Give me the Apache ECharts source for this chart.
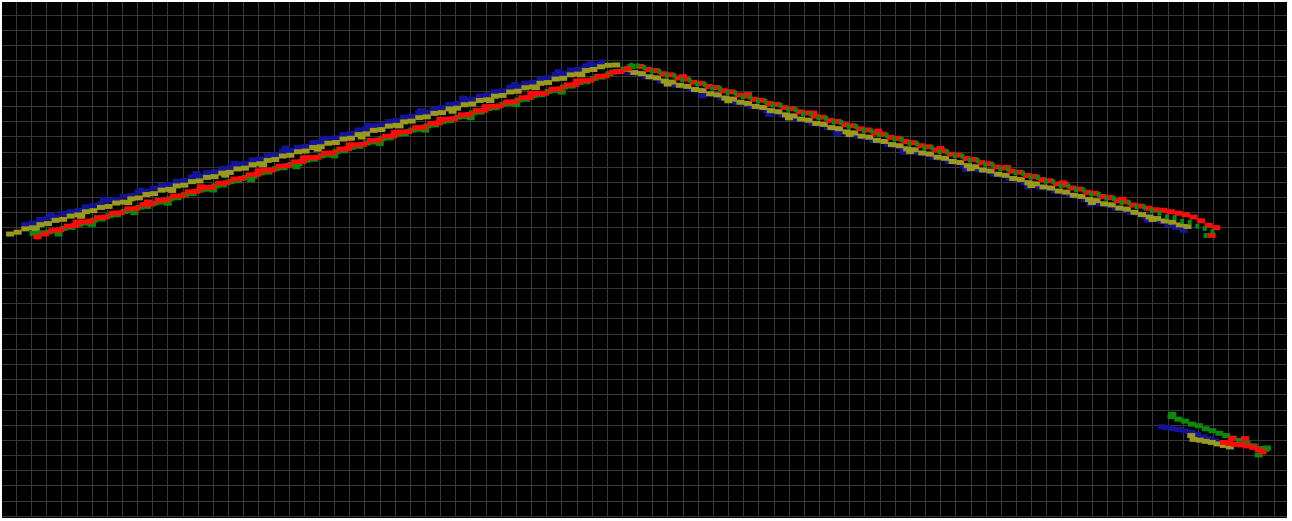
<!DOCTYPE html>
<html>
<head>
<meta charset="utf-8">
<script src="https://cdn.jsdelivr.net/npm/echarts@6/dist/echarts.min.js"></script>
<style>
html,body{margin:0;padding:0;background:#fff;}
#chart{width:1292px;height:521px;}
</style>
</head>
<body>
<div id="chart"></div>
<script>
// Point cloud, coordinates in metres (1 grid cell = 1 m)
const blueLeft = [[1.6,19.22],[2.1,19.30],[2.6,19.54],[3.1,19.62],[3.6,19.70],[4.1,19.95],[4.6,20.05],[5.1,20.14],[5.6,20.38],[6.1,20.47],[6.6,20.56],[7.1,20.80],[7.6,20.86],[8.1,21.06],[8.6,21.12],[9.1,21.36],[9.6,21.41],[10.1,21.60],[10.6,21.78],[11.1,21.84],[11.6,22.05],[12.1,22.12],[12.6,22.35],[13.1,22.40],[13.6,22.62],[14.1,22.68],[14.6,22.90],[15.1,22.96],[15.6,23.18],[16.1,23.24],[16.6,23.46],[17.1,23.52],[17.6,23.74],[18.1,23.80],[18.6,24.04],[19.1,24.09],[19.6,24.30],[20.1,24.36],[20.6,24.60],[21.1,24.65],[21.6,24.88],[22.1,24.92],[22.6,25.14],[23.1,25.21],[23.6,25.44],[24.1,25.50],[24.6,25.72],[25.1,25.77],[25.6,26.00],[26.1,26.05],[26.6,26.28],[27.1,26.34],[27.6,26.56],[28.1,26.62],[28.6,26.84],[29.1,26.90],[29.6,27.12],[30.1,27.18],[30.6,27.41],[31.1,27.46],[31.6,27.68],[32.1,27.75],[32.6,27.96],[33.1,28.02],[33.6,28.25],[34.1,28.30],[34.6,28.52],[35.1,28.58],[35.6,28.80],[36.1,28.88],[36.6,29.10],[37.1,29.15],[37.6,29.38],[38.1,29.44],[38.6,29.66],[39.1,29.72],[39.6,29.92]];
const blueLeftStray = [[3.3,19.84],[6.8,20.87],[9.2,21.47],[12.9,22.56],[15.4,23.24],[18.8,24.24],[21.3,24.89],[24.2,25.75],[27.7,26.71],[30.5,27.53],[33.9,28.43],[36.8,29.29],[38.9,29.80]];
const blueRight = [[41.55,29.22],[42.05,29.15],[42.55,28.94],[43.05,28.87],[43.55,28.66],[44.05,28.59],[44.55,28.38],[45.05,28.31],[45.55,28.10],[46.05,28.03],[46.55,27.82],[47.05,27.75],[47.55,27.54],[48.05,27.47],[48.55,27.26],[49.05,27.20],[49.55,26.99],[50.05,26.92],[50.55,26.71],[51.05,26.64],[51.55,26.43],[52.05,26.36],[52.55,26.15],[53.05,26.08],[53.55,25.87],[54.05,25.80],[54.55,25.59],[55.05,25.52],[55.55,25.31],[56.05,25.24],[56.55,25.03],[57.05,24.96],[57.55,24.75],[58.05,24.68],[58.55,24.47],[59.05,24.40],[59.55,24.20],[60.05,24.13],[60.55,23.92],[61.05,23.85],[61.55,23.64],[62.05,23.57],[62.55,23.36],[63.05,23.29],[63.55,23.08],[64.05,23.01],[64.55,22.80],[65.05,22.73],[65.55,22.52],[66.05,22.45],[66.55,22.24],[67.05,22.17],[67.55,21.96],[68.05,21.89],[68.55,21.68],[69.05,21.61],[69.55,21.41],[70.05,21.34],[70.55,21.13],[71.05,21.06],[71.55,20.85],[72.05,20.78],[72.55,20.57],[73.05,20.50],[73.55,20.29],[74.05,20.22],[74.55,20.01],[75.05,19.94],[75.55,19.73],[76.05,19.60],[76.55,19.42],[77.05,19.20],[77.55,19.02],[78.05,18.82]];
const blueRightStray = [[46.3,27.68],[50.7,26.46],[55.2,25.20],[59.6,23.98],[63.7,22.83],[67.8,21.69],[71.9,20.54],[75.7,19.49]];
const blueCluster = [[76.6,5.88],[76.95,5.82],[77.35,5.75],[77.75,5.70],[78.15,5.60],[78.55,5.50],[78.95,5.38],[79.35,5.22],[79.75,5.10],[80.15,4.95],[80.55,4.82],[80.95,4.70]];

const oliveLeft = [[0.6,18.58],[1.1,18.70],[1.6,18.92],[2.1,18.99],[2.6,19.20],[3.1,19.27],[3.6,19.48],[4.1,19.55],[4.6,19.76],[5.1,19.84],[5.6,20.05],[6.1,20.12],[6.6,20.33],[7.1,20.40],[7.6,20.62],[8.1,20.68],[8.6,20.90],[9.1,20.96],[9.6,21.18],[10.1,21.24],[10.6,21.47],[11.1,21.52],[11.6,21.75],[12.1,21.80],[12.6,22.03],[13.1,22.08],[13.6,22.31],[14.1,22.36],[14.6,22.59],[15.1,22.64],[15.6,22.87],[16.1,22.92],[16.6,23.15],[17.1,23.21],[17.6,23.43],[18.1,23.49],[18.6,23.72],[19.1,23.77],[19.6,24.00],[20.1,24.05],[20.6,24.28],[21.1,24.33],[21.6,24.56],[22.1,24.61],[22.6,24.84],[23.1,24.89],[23.6,25.13],[24.1,25.18],[24.6,25.41],[25.1,25.46],[25.6,25.69],[26.1,25.74],[26.6,25.97],[27.1,26.02],[27.6,26.25],[28.1,26.30],[28.6,26.53],[29.1,26.58],[29.6,26.82],[30.1,26.87],[30.6,27.10],[31.1,27.15],[31.6,27.38],[32.1,27.43],[32.6,27.66],[33.1,27.71],[33.6,27.94],[34.1,27.99],[34.6,28.22],[35.1,28.27],[35.6,28.51],[36.1,28.56],[36.6,28.79],[37.1,28.84],[37.6,29.07],[38.1,29.12],[38.6,29.35],[39.1,29.42],[39.6,29.60],[40.1,29.70],[40.6,29.72]];
const oliveLeftStray = [[2.3,18.93],[5.3,19.75],[8.4,20.65],[11.3,21.45],[14.8,22.46],[17.3,23.14],[20.9,24.17],[23.8,24.97],[26.3,25.70],[29.8,26.67],[32.3,27.37],[35.3,28.22],[38.3,29.07]];
const oliveRight = [[41.3,29.42],[41.8,29.22],[42.3,29.15],[42.8,28.94],[43.3,28.87],[43.8,28.66],[44.3,28.59],[44.8,28.38],[45.3,28.31],[45.8,28.10],[46.3,28.03],[46.8,27.82],[47.3,27.75],[47.8,27.54],[48.3,27.47],[48.8,27.26],[49.3,27.19],[49.8,26.99],[50.3,26.92],[50.8,26.71],[51.3,26.64],[51.8,26.43],[52.3,26.36],[52.8,26.15],[53.3,26.08],[53.8,25.87],[54.3,25.80],[54.8,25.59],[55.3,25.52],[55.8,25.31],[56.3,25.24],[56.8,25.03],[57.3,24.96],[57.8,24.75],[58.3,24.68],[58.8,24.47],[59.3,24.40],[59.8,24.19],[60.3,24.13],[60.8,23.92],[61.3,23.85],[61.8,23.64],[62.3,23.57],[62.8,23.36],[63.3,23.29],[63.8,23.08],[64.3,23.01],[64.8,22.80],[65.3,22.73],[65.8,22.52],[66.3,22.45],[66.8,22.24],[67.3,22.17],[67.8,21.96],[68.3,21.89],[68.8,21.68],[69.3,21.61],[69.8,21.41],[70.3,21.34],[70.8,21.13],[71.3,21.06],[71.8,20.85],[72.3,20.78],[72.8,20.57],[73.3,20.50],[73.8,20.29],[74.3,20.22],[74.8,20.01],[75.3,19.86],[75.8,19.70],[76.3,19.60],[76.8,19.44],[77.3,19.36],[77.8,19.18],[78.3,19.08]];
const oliveRightStray = [[44.0,28.46],[48.0,27.36],[52.0,26.23],[56.0,25.13],[60.0,24.00],[64.0,22.89],[68.0,21.77],[72.0,20.66],[76.0,19.54]];
const oliveCluster = [[78.55,5.30],[78.7,5.05],[79.1,5.00],[79.5,4.92],[79.9,4.85],[80.3,4.75],[80.7,4.65],[81.1,4.55]];

const greenLeft = [[2.15,18.62],[2.65,18.66],[3.15,18.72],[3.65,18.80],[4.15,18.95],[4.65,19.02],[5.15,19.22],[5.65,19.30],[6.15,19.50],[6.65,19.57],[7.15,19.78],[7.65,19.85],[8.15,20.06],[8.65,20.12],[9.15,20.34],[9.65,20.40],[10.15,20.62],[10.65,20.69],[11.15,20.90],[11.65,20.97],[12.15,21.18],[12.65,21.25],[13.15,21.47],[13.65,21.53],[14.15,21.75],[14.65,21.81],[15.15,22.03],[15.65,22.09],[16.15,22.31],[16.65,22.38],[17.15,22.60],[17.65,22.66],[18.15,22.88],[18.65,22.94],[19.15,23.16],[19.65,23.22],[20.15,23.45],[20.65,23.51],[21.15,23.73],[21.65,23.79],[22.15,24.01],[22.65,24.07],[23.15,24.30],[23.65,24.36],[24.15,24.58],[24.65,24.64],[25.15,24.86],[25.65,24.92],[26.15,25.15],[26.65,25.20],[27.15,25.43],[27.65,25.48],[28.15,25.71],[28.65,25.77],[29.15,26.00],[29.65,26.05],[30.15,26.28],[30.65,26.33],[31.15,26.56],[31.65,26.61],[32.15,26.85],[32.65,26.90],[33.15,27.13],[33.65,27.18],[34.15,27.41],[34.65,27.46],[35.15,27.70],[35.65,27.76],[36.15,27.98],[36.65,28.04],[37.15,28.26],[37.65,28.33],[38.15,28.55],[38.65,28.62],[39.15,28.84],[39.65,28.92],[40.15,29.14],[40.65,29.28],[41.15,29.45],[41.6,29.62]];
const greenLeftStray = [[3.8,18.58],[6.0,19.22],[8.8,19.99],[11.0,20.61],[14.0,21.48],[16.5,22.16],[19.5,23.01],[22.0,23.73],[25.0,24.55],[28.0,25.42],[31.0,26.24],[34.0,27.11],[37.0,27.93]];
const greenRight = [[41.6,29.70],[42.0,29.66],[42.45,29.55],[42.95,29.31],[43.45,29.28],[43.95,29.03],[44.45,29.00],[44.95,28.75],[45.45,28.72],[45.95,28.47],[46.45,28.44],[46.95,28.19],[47.45,28.16],[47.95,27.91],[48.45,27.88],[48.95,27.63],[49.45,27.60],[49.95,27.35],[50.45,27.32],[50.95,27.08],[51.45,27.05],[51.95,26.80],[52.45,26.77],[52.95,26.52],[53.45,26.49],[53.95,26.24],[54.45,26.21],[54.95,25.96],[55.45,25.93],[55.95,25.68],[56.45,25.65],[56.95,25.40],[57.45,25.37],[57.95,25.12],[58.45,25.09],[58.95,24.84],[59.45,24.81],[59.95,24.56],[60.45,24.53],[60.95,24.28],[61.45,24.26],[61.95,24.01],[62.45,23.98],[62.95,23.73],[63.45,23.70],[63.95,23.45],[64.45,23.42],[64.95,23.17],[65.45,23.14],[65.95,22.89],[66.45,22.86],[66.95,22.61],[67.45,22.58],[67.95,22.33],[68.45,22.30],[68.95,22.05],[69.45,22.02],[69.95,21.77],[70.45,21.74],[70.95,21.50],[71.45,21.47],[71.95,21.22],[72.45,21.19],[72.95,20.94],[73.45,20.91],[73.95,20.66],[74.45,20.63],[74.95,20.38],[75.45,20.35],[75.95,20.10],[76.45,19.95],[76.95,19.72],[77.45,19.66],[77.95,19.42],[78.45,19.36],[78.95,19.10],[79.45,18.95],[79.95,18.75],[79.5,18.48]];
const greenCluster = [[77.3,6.70],[77.25,6.55],[77.7,6.38],[78.15,6.25],[78.6,6.05],[79.05,5.95],[79.5,5.75],[79.95,5.62],[80.4,5.45],[80.85,5.30],[81.3,5.12],[81.75,4.98],[82.2,4.80],[82.65,4.62],[83.1,4.45],[83.45,4.40],[83.0,4.02],[83.55,4.48]];

const redLeft = [[2.4,18.40],[2.9,18.58],[3.4,18.80],[3.9,18.86],[4.4,19.10],[4.9,19.15],[5.4,19.38],[5.9,19.42],[6.4,19.66],[6.9,19.70],[7.4,19.95],[7.9,19.98],[8.4,20.24],[8.9,20.27],[9.4,20.52],[9.9,20.55],[10.4,20.80],[10.9,20.83],[11.4,21.08],[11.9,21.10],[12.4,21.36],[12.9,21.39],[13.4,21.64],[13.9,21.66],[14.4,21.92],[14.9,21.96],[15.4,22.20],[15.9,22.24],[16.4,22.48],[16.9,22.52],[17.4,22.77],[17.9,22.80],[18.4,23.05],[18.9,23.08],[19.4,23.33],[19.9,23.36],[20.4,23.61],[20.9,23.64],[21.4,23.90],[21.9,23.92],[22.4,24.18],[22.9,24.20],[23.4,24.46],[23.9,24.49],[24.4,24.74],[24.9,24.77],[25.4,25.02],[25.9,25.05],[26.4,25.30],[26.9,25.33],[27.4,25.59],[27.9,25.62],[28.4,25.87],[28.9,25.90],[29.4,26.15],[29.9,26.18],[30.4,26.43],[30.9,26.46],[31.4,26.71],[31.9,26.74],[32.4,26.99],[32.9,27.02],[33.4,27.28],[33.9,27.30],[34.4,27.56],[34.9,27.58],[35.4,27.84],[35.9,27.86],[36.4,28.12],[36.9,28.15],[37.4,28.40],[37.9,28.43],[38.4,28.68],[38.9,28.72],[39.4,28.97],[39.9,29.00],[40.4,29.25],[40.9,29.30],[41.4,29.50]];
const redLeftStray = [[5.0,19.37],[9.7,20.69],[13.2,21.69],[17.0,22.74],[20.0,23.60],[23.0,24.45],[26.0,25.28],[29.0,26.13],[32.0,26.97],[35.0,27.83],[38.0,28.66]];
const redRight = [[42.2,29.62],[42.7,29.42],[43.2,29.35],[43.7,29.14],[44.2,29.07],[44.7,28.86],[45.2,28.79],[45.7,28.58],[46.2,28.51],[46.7,28.30],[47.2,28.23],[47.7,28.02],[48.2,27.95],[48.7,27.74],[49.2,27.67],[49.7,27.46],[50.2,27.39],[50.7,27.18],[51.2,27.12],[51.7,26.91],[52.2,26.84],[52.7,26.63],[53.2,26.56],[53.7,26.35],[54.2,26.28],[54.7,26.07],[55.2,26.00],[55.7,25.79],[56.2,25.72],[56.7,25.51],[57.2,25.44],[57.7,25.23],[58.2,25.16],[58.7,24.95],[59.2,24.88],[59.7,24.67],[60.2,24.60],[60.7,24.40],[61.2,24.33],[61.7,24.12],[62.2,24.05],[62.7,23.84],[63.2,23.77],[63.7,23.56],[64.2,23.49],[64.7,23.28],[65.2,23.21],[65.7,23.00],[66.2,22.93],[66.7,22.72],[67.2,22.65],[67.7,22.44],[68.2,22.37],[68.7,22.16],[69.2,22.09],[69.7,21.88],[70.2,21.81],[70.7,21.61],[71.2,21.54],[71.7,21.33],[72.2,21.26],[72.7,21.05],[73.2,20.98],[73.7,20.77],[74.2,20.70],[74.7,20.49],[75.2,20.42],[75.7,20.28],[76.2,20.18],[76.7,20.14],[77.2,20.05],[77.7,19.95],[78.2,19.85],[78.7,19.70],[79.2,19.45],[79.7,19.15],[80.2,19.00],[79.9,18.50]];
const redRightStray = [[45.0,28.95],[49.3,27.77],[53.6,26.55],[57.9,25.36],[62.0,24.22],[66.4,22.97],[70.1,21.95],[74.0,20.87]];
const redCluster = [[80.7,4.85],[81.05,4.78],[81.25,5.12],[81.45,4.72],[81.85,4.68],[82.1,5.10],[82.25,4.62],[82.65,4.52],[83.0,4.38],[83.25,4.22]];

const colors = {blue:'#14149a', olive:'#9a9a1e', green:'#0a8a0a', red:'#ff0a0a'};

const chart = echarts.init(document.getElementById('chart'), null, {renderer:'canvas'});
function sc(name, color, data, size){
  return {name:name, type:'scatter', symbol:'rect', symbolSize:size || [8,5], silent:true,
    itemStyle:{color:color, opacity:1}, data:data, emphasis:{disabled:true}};
}
const axisCommon = {type:'value', interval:1, axisLine:{show:false}, axisTick:{show:false},
  axisLabel:{show:false}, splitLine:{show:true, lineStyle:{color:'#383838', width:1}}};
chart.setOption({
  backgroundColor:'#000',
  animation:false,
  grid:{left:1, top:0, width:1288, height:516, containLabel:false},
  xAxis:Object.assign({min:0, max:85}, axisCommon),
  yAxis:Object.assign({min:0, max:34}, axisCommon),
  series:[
    sc('blue', colors.blue, blueLeft.concat(blueLeftStray, blueRight, blueRightStray, blueCluster)),
    sc('olive', colors.olive, oliveLeft.concat(oliveLeftStray, oliveRight, oliveRightStray, oliveCluster)),
    sc('green', colors.green, greenLeft.concat(greenLeftStray, greenCluster)),
    sc('red', colors.red, redLeft.concat(redLeftStray, redRight, redRightStray, redCluster)),
    sc('green', colors.green, greenRight, [4,5])
  ],
  graphic:[
    {type:'rect', z:100, silent:true, shape:{x:0,y:0,width:1292,height:2}, style:{fill:'#fff'}},
    {type:'rect', z:100, silent:true, shape:{x:0,y:0,width:2,height:521}, style:{fill:'#fff'}},
    {type:'rect', z:100, silent:true, shape:{x:1287,y:0,width:5,height:521}, style:{fill:'#fff'}},
    {type:'rect', z:100, silent:true, shape:{x:0,y:518,width:1292,height:3}, style:{fill:'#fff'}}
  ]
});
</script>
</body>
</html>
